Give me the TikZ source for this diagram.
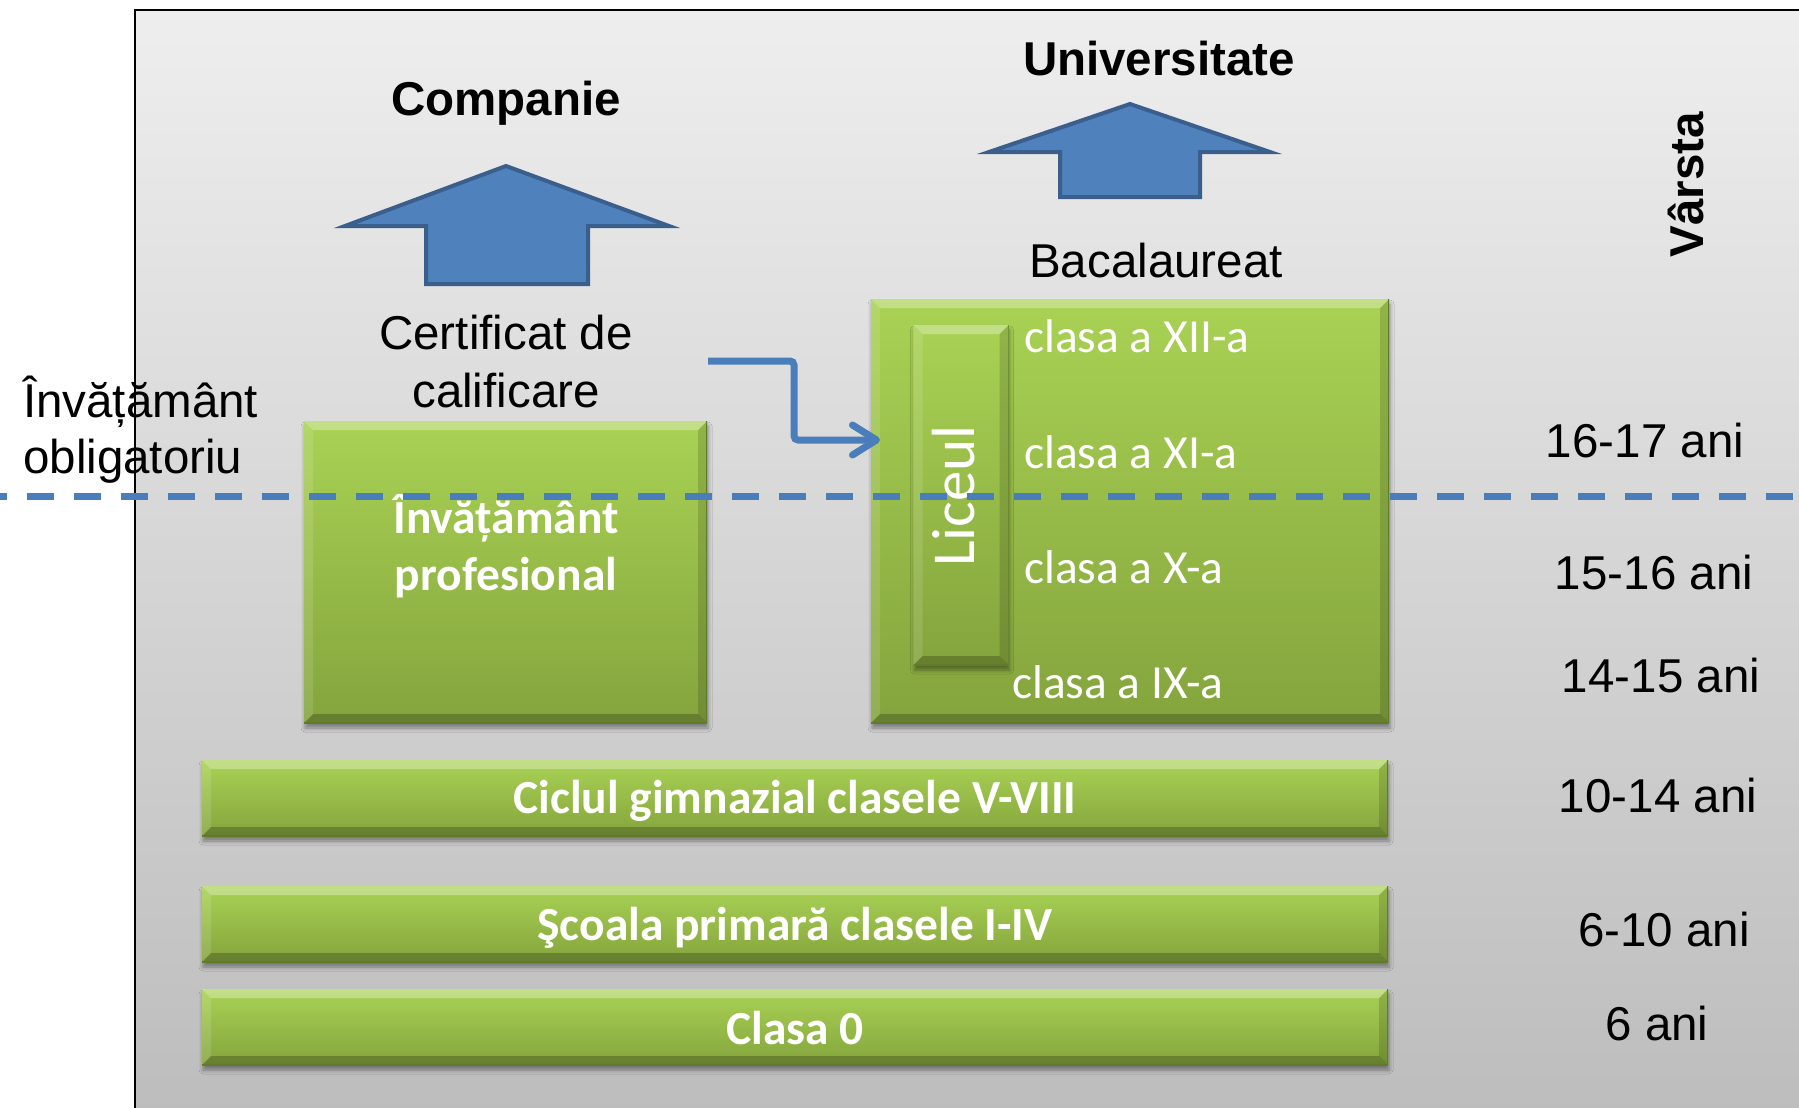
\documentclass[tikz,border=0pt]{standalone}
\usepackage{fontspec}
\setmainfont{Liberation Sans}
\newfontfamily\calfont{Carlito}
\usetikzlibrary{arrows.meta,shadows.blur}
\definecolor{panelTop}{HTML}{EEEEEE}
\definecolor{panelBot}{HTML}{BDBDBD}
\definecolor{gtop}{HTML}{A9D254}
\definecolor{gbot}{HTML}{84A43D}
\definecolor{gedge}{HTML}{5E7C2A}
\definecolor{arrowFill}{HTML}{4F81BD}
\definecolor{arrowEdge}{HTML}{3A5F8D}
\definecolor{lineBlue}{HTML}{4A7EBB}
\newcommand\bigtxt{\fontsize{47.5}{57}\selectfont}
\def\bv{9pt}
\begin{document}
\begin{tikzpicture}[x=1pt,y=-1pt,
  txt/.style={font=\bigtxt, text=black, inner sep=0pt, anchor=base},
  btxt/.style={font=\bigtxt\bfseries, text=black, inner sep=0pt, anchor=base},
  wtxt/.style={font=\calfont\bigtxt, text=white, inner sep=0pt, anchor=base},
  wbtxt/.style={font=\calfont\bfseries\bigtxt, text=white, inner sep=0pt, anchor=base},
  bigarrow/.style={fill=arrowFill, draw=arrowEdge, line width=4pt, line join=miter},
  conn/.style={draw=lineBlue, line width=7pt, rounded corners=4pt, -{Straight Barb[length=24pt,width=30pt,round]}},
  dashline/.style={draw=lineBlue, line width=7pt, dash pattern=on 27pt off 20pt, dash phase=20pt},
  gbox/.style={rectangle, inner sep=0pt, outer sep=0pt, top color=gtop, bottom color=gbot,
    blur shadow={shadow xshift=1pt, shadow yshift=-5pt, shadow blur radius=4pt, shadow opacity=40},
    path picture={
      \path (path picture bounding box.north west) coordinate (bNW)
            (path picture bounding box.north east) coordinate (bNE)
            (path picture bounding box.south west) coordinate (bSW)
            (path picture bounding box.south east) coordinate (bSE);
      \fill[white, fill opacity=0.12] (bNW) -- ([xshift=\bv,yshift=-\bv]bNW) -- ([xshift=\bv,yshift=\bv]bSW) -- (bSW) -- cycle;
      \fill[black, fill opacity=0.14] (bNE) -- ([xshift=-\bv,yshift=-\bv]bNE) -- ([xshift=-\bv,yshift=\bv]bSE) -- (bSE) -- cycle;
      \fill[black, fill opacity=0.22] (bSW) -- ([xshift=\bv,yshift=\bv]bSW) -- ([xshift=-\bv,yshift=\bv]bSE) -- (bSE) -- cycle;
      \fill[white, fill opacity=0.30] (bNW) -- ([xshift=\bv,yshift=-\bv]bNW) -- ([xshift=-\bv,yshift=-\bv]bNE) -- (bNE) -- cycle;
      \draw[gedge, line width=2pt] (bSW) -- (bSE) -- (bNE);
    }}
]
\useasboundingbox (0,0) rectangle (1799,1108);
% background panel
\shade[top color=panelTop, bottom color=panelBot] (135,10) rectangle (1799,1108);
\draw[line width=2.5pt] (135,1108) -- (135,10) -- (1799,10);

% big arrows
\draw[bigarrow] (506,166) -- (669,226) -- (588,226) -- (588,284) -- (426,284) -- (426,226) -- (345,226) -- cycle;
\draw[bigarrow] (1130,104) -- (1270,152) -- (1200,152) -- (1200,197) -- (1060,197) -- (1060,152) -- (989,152) -- cycle;

% green boxes
\node[gbox, minimum width=403pt, minimum height=302pt] (profbox) at (505.5,572) {};
\node[gbox, minimum width=518pt, minimum height=424pt] (liceubox) at (1130,511) {};
\node[gbox, minimum width=95pt, minimum height=340pt] (barbox) at (961,495) {};
\node[gbox, minimum width=1186pt, minimum height=76pt] (ciclbox) at (795,798) {};
\node[gbox, minimum width=1186pt, minimum height=76pt] (scbox) at (795,924) {};
\node[gbox, minimum width=1186pt, minimum height=76pt] (c0box) at (795,1027) {};

% black texts
\node[btxt] (companie) at (506,115) {Companie};
\node[btxt] (univ) at (1159,75) {Universitate};
\node[btxt, rotate=90] (varsta) at (1703,184.5) {Vârsta};
\node[txt] (cert1) at (506,349) {Certificat de};
\node[txt] (cert2) at (506,407) {calificare};
\node[txt] (bac) at (1156,277) {Bacalaureat};
\node[txt, anchor=base west] (inv1) at (23,417) {Învățământ};
\node[txt, anchor=base west] (inv2) at (23,473) {obligatoriu};
\node[txt] (a1) at (1645,457) {16-17 ani};
\node[txt] (a2) at (1654,589) {15-16 ani};
\node[txt] (a3) at (1661,692) {14-15 ani};
\node[txt] (a4) at (1658,812) {10-14 ani};
\node[txt] (a5) at (1664,946) {6-10 ani};
\node[txt] (a6) at (1657,1040) {6 ani};

% white texts
\node[wbtxt] (prof1) at (506,533) {Învățământ};
\node[wbtxt] (prof2) at (506,590) {profesional};
\node[wtxt, anchor=base west] (c12) at (1024,352) {clasa a XII-a};
\node[wtxt, anchor=base west] (c11) at (1024,468) {clasa a XI-a};
\node[wtxt, anchor=base west] (c10) at (1024,583) {clasa a X-a};
\node[wtxt, anchor=base west] (c9) at (1012,698) {clasa a IX-a};
\node[wtxt, rotate=90, font=\calfont\fontsize{61}{70}\selectfont] (liceul) at (974,496) {Liceul};
\node[wbtxt] (ciclul) at (795,813) {Ciclul gimnazial clasele V-VIII};
\node[wbtxt] (scoala) at (795,940) {Şcoala primară clasele I-IV};
\node[wbtxt] (clasa0) at (795,1044) {Clasa 0};

% elbow connector
\coordinate (cstart) at (708,361);
\coordinate (cbend) at (794,361);
\coordinate (cend) at (880,440);
\draw[conn] (cstart) -- (cbend) |- (cend);

% dashed line
\coordinate (dl) at (0,496);
\coordinate (dr) at (1799,496);
\draw[dashline] (dl) -- (dr);
\end{tikzpicture}
\end{document}
